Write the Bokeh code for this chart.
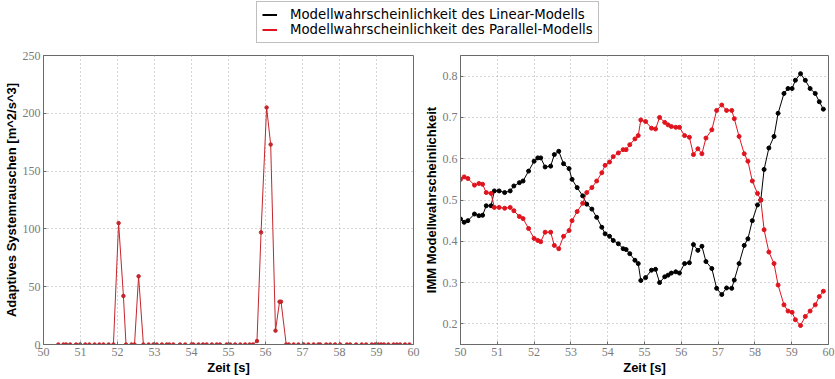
from bokeh.plotting import figure
from bokeh.layouts import column, row
from bokeh.models import Range1d, FixedTicker, Legend, LegendItem
from bokeh.embed import file_html
from bokeh.resources import INLINE

# ---------------- data ----------------
t_noise = [50.4, 50.54, 50.61, 50.72, 50.88, 50.99, 51.13, 51.24, 51.38, 51.51, 51.62, 51.76, 51.89,
           52.03, 52.16, 52.23, 52.38, 52.46, 52.57, 52.7, 52.84, 52.97, 53.06, 53.2, 53.33, 53.4,
           53.51, 53.69, 53.83, 54.0, 54.05, 54.19, 54.31, 54.41, 54.55, 54.68, 54.77, 54.95, 55.05,
           55.18, 55.32, 55.45, 55.57, 55.66, 55.77, 55.88, 56.03, 56.14, 56.27, 56.38, 56.42, 56.56,
           56.63, 56.76, 56.89, 57.03, 57.16, 57.3, 57.43, 57.48, 57.64, 57.75, 57.88, 58.02, 58.2,
           58.29, 58.45, 58.6, 58.72, 58.87, 58.96, 59.05, 59.12, 59.2, 59.32, 59.46, 59.55, 59.64,
           59.77, 59.89]
noise = [0, 0, 0, 0, 0, 0, 0, 0, 0, 0, 0, 0, 0,
         105, 42, 0, 0, 0, 59, 0, 0, 0, 0, 0, 0, 0,
         0, 0, 0, 0, 0, 0, 0, 0, 0, 0, 0, 0, 0,
         0, 0, 0, 0, 0, 3, 97, 205, 173, 12, 37, 37, 0,
         0, 0, 0, 0, 0, 0, 0, 0, 0, 0, 0, 0, 0,
         0, 0, 0, 0, 0, 0, 0, 0, 0, 0, 0, 0, 0,
         0, 0]

t_prob = [50.0, 50.1, 50.2, 50.38, 50.5, 50.6, 50.7, 50.83, 50.92, 51.05, 51.2, 51.35, 51.45, 51.6,
          51.7, 51.85, 52.0, 52.1, 52.18, 52.3, 52.45, 52.55, 52.67, 52.8, 52.95, 53.03, 53.17,
          53.32, 53.43, 53.57, 53.7, 53.84, 53.93, 54.05, 54.15, 54.29, 54.42, 54.5, 54.6, 54.74,
          54.83, 54.9, 55.03, 55.19, 55.3, 55.41, 55.55, 55.64, 55.73, 55.85, 55.95, 56.09, 56.22,
          56.33, 56.45, 56.56, 56.67, 56.83, 56.96, 57.1, 57.23, 57.37, 57.44, 57.57, 57.71, 57.81,
          57.93, 58.07, 58.16, 58.25, 58.38, 58.52, 58.63, 58.79, 58.9, 59.01, 59.1, 59.24, 59.37,
          59.5, 59.64, 59.75, 59.86]
p_linear = [0.454, 0.446, 0.45, 0.466, 0.462, 0.463, 0.486, 0.486, 0.522, 0.522, 0.518, 0.522, 0.534,
            0.542, 0.546, 0.57, 0.594, 0.602, 0.602, 0.58, 0.582, 0.61, 0.618, 0.588, 0.576, 0.55,
            0.53, 0.51, 0.49, 0.478, 0.458, 0.434, 0.418, 0.412, 0.402, 0.394, 0.382, 0.38, 0.37,
            0.354, 0.346, 0.305, 0.312, 0.33, 0.332, 0.3, 0.314, 0.318, 0.323, 0.326, 0.323, 0.346,
            0.348, 0.392, 0.378, 0.388, 0.351, 0.334, 0.286, 0.271, 0.287, 0.286, 0.306, 0.346, 0.39,
            0.406, 0.45, 0.488, 0.5, 0.574, 0.626, 0.654, 0.71, 0.758, 0.77, 0.77, 0.79, 0.806, 0.79,
            0.77, 0.758, 0.738, 0.72]
p_parallel = [0.55, 0.556, 0.552, 0.536, 0.54, 0.538, 0.518, 0.516, 0.482, 0.482, 0.48, 0.482, 0.474,
              0.46, 0.455, 0.431, 0.407, 0.402, 0.399, 0.422, 0.422, 0.39, 0.382, 0.412, 0.426, 0.45,
              0.472, 0.492, 0.518, 0.53, 0.546, 0.566, 0.584, 0.592, 0.605, 0.614, 0.622, 0.622, 0.634,
              0.648, 0.656, 0.694, 0.69, 0.674, 0.672, 0.7, 0.688, 0.682, 0.678, 0.676, 0.676, 0.656,
              0.652, 0.61, 0.624, 0.612, 0.65, 0.67, 0.717, 0.73, 0.717, 0.717, 0.697, 0.654, 0.612,
              0.594, 0.546, 0.516, 0.5, 0.428, 0.374, 0.346, 0.294, 0.246, 0.231, 0.228, 0.21, 0.196,
              0.218, 0.231, 0.246, 0.266, 0.279]

x_ticks = [50, 51, 52, 53, 54, 55, 56, 57, 58, 59, 60]
noise_ticks = [0, 50, 100, 150, 200, 250]
prob_ticks = [0.2, 0.3, 0.4, 0.5, 0.6, 0.7, 0.8]
legend_labels = ["Modellwahrscheinlichkeit des Linear-Modells",
                 "Modellwahrscheinlichkeit des Parallel-Modells"]
x_label = "Zeit [s]"
noise_label = "Adaptives Systemrauschen [m^2/s^3]"
prob_label = "IMM Modellwahrscheinlichkeit"

# ---------------- style ----------------
TICK_FONT = "Liberation Sans Narrow"
LABEL_FONT = "Liberation Sans"
FRAME = "#6a6a6a"
GRID = "#a8a8a8"
RED_DARK = "#c3262c"
RED = "#e0141e"
BLACK = "#000000"


def style(p, yticks):
    p.xaxis.ticker = FixedTicker(ticks=x_ticks)
    p.yaxis.ticker = FixedTicker(ticks=yticks)
    p.outline_line_color = FRAME
    p.outline_line_width = 1
    for ax in p.axis:
        ax.axis_line_color = FRAME
        ax.major_tick_line_color = FRAME
        ax.major_tick_in = 3
        ax.major_tick_out = 0
        ax.minor_tick_line_color = None
        ax.major_label_text_font = TICK_FONT
        ax.major_label_text_font_size = "12px"
        ax.major_label_text_color = "#7a7a7a"
        ax.axis_label_text_font = LABEL_FONT
        ax.axis_label_text_font_size = "13px"
        ax.axis_label_text_font_style = "bold"
        ax.axis_label_text_color = "#000000"
        ax.axis_label_standoff = 1
    p.xaxis.major_label_standoff = 3
    p.yaxis.major_label_standoff = 3
    p.xaxis.axis_label = x_label
    p.grid.grid_line_color = GRID
    p.grid.grid_line_dash = "1 3"
    p.grid.grid_line_width = 1
    p.background_fill_color = "white"
    p.border_fill_color = "white"


# legend strip
pl = figure(width=835, height=48, output_backend="svg", toolbar_location=None,
            x_axis_type=None, y_axis_type=None, min_border=0,
            x_range=Range1d(0, 1), y_range=Range1d(0, 1))
pl.outline_line_color = None
pl.grid.visible = False
r1 = pl.line(x=[5, 6], y=[5, 6], line_color=BLACK, line_width=2)
r2 = pl.line(x=[5, 6], y=[5, 6], line_color=RED, line_width=2)
leg = Legend(items=[LegendItem(label=legend_labels[0], renderers=[r1]),
                    LegendItem(label=legend_labels[1], renderers=[r2])],
             location=(256, 5), padding=5, spacing=0, margin=0,
             label_height=15, glyph_height=15, glyph_width=15, label_standoff=13,
             label_text_font="DejaVu Sans", label_text_font_size="13.3px",
             label_text_color="#000000",
             border_line_color="#808080", border_line_width=1,
             background_fill_color="white", background_fill_alpha=1.0)
pl.add_layout(leg)

# left: adaptive noise
p1 = figure(width=420, height=331, output_backend="svg", toolbar_location=None,
            x_range=Range1d(50, 60), y_range=Range1d(0, 250),
            min_border_left=43, min_border_right=7, min_border_top=5, min_border_bottom=35)
style(p1, noise_ticks)
p1.yaxis.axis_label = noise_label
p1.line(t_noise, noise, line_color=RED_DARK, line_width=1)
p1.scatter(t_noise, noise, marker="circle", size=3.5, line_color=RED_DARK, fill_color=RED_DARK)

# right: model probabilities
p2 = figure(width=415, height=331, output_backend="svg", toolbar_location=None,
            x_range=Range1d(50, 60), y_range=Range1d(0.15, 0.85),
            min_border_left=38, min_border_right=7, min_border_top=7, min_border_bottom=33)
style(p2, prob_ticks)
p2.yaxis.axis_label = prob_label
p2.line(t_prob, p_linear, line_color=BLACK, line_width=1)
p2.scatter(t_prob, p_linear, marker="circle", size=4, line_color=BLACK, fill_color=BLACK)
p2.line(t_prob, p_parallel, line_color=RED, line_width=1)
p2.scatter(t_prob, p_parallel, marker="circle", size=4, line_color=RED, fill_color=RED)

layout = column(pl, row(p1, p2))
open("out.html", "w").write(file_html(layout, INLINE))
